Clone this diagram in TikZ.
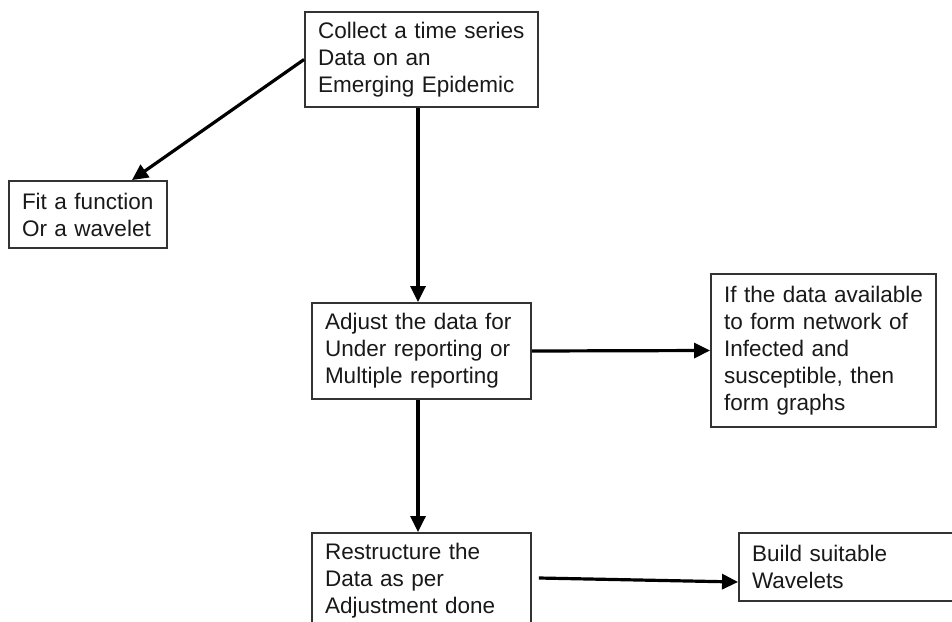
\documentclass[tikz,border=0pt]{standalone}
\usepackage{fontspec}
\setmainfont{Liberation Sans}
\usetikzlibrary{arrows.meta}
\begin{document}
\begin{tikzpicture}[x=1pt,y=-1pt,
  box/.style={draw=black!80, line width=1.9pt, rectangle, inner xsep=13pt, inner ysep=0pt,
    align=left, font=\fontsize{22.5}{27}\selectfont, text=black!90},
  flow/.style={line width=3.2pt, -{Triangle[length=16pt,width=15pt]}}
]
\useasboundingbox (0,0) rectangle (952,621);
\clip (0,0) rectangle (952,621);
\fill[white] (0,0) rectangle (952,621);

% process steps
\node[box, text width=207pt, minimum height=95pt] (collect) at (421.5,59.5)
  {Collect a time series\\Data on an\\Emerging Epidemic};
\node[box, text width=132pt, minimum height=67pt] (fit) at (88,214.5)
  {Fit a function\\Or a wavelet};
\node[box, text width=193pt, minimum height=96pt] (adjust) at (421.5,351)
  {Adjust the data for\\Under reporting or\\Multiple reporting};
\node[box, text width=199pt, minimum height=153pt] (graphs) at (823.5,350.5)
  {If the data available\\to form network of\\Infected and\\susceptible, then\\form graphs};
\node[box, text width=193pt, minimum height=96pt] (restructure) at (421.5,581)
  {Restructure the\\Data as per\\Adjustment done};
\node[box, text width=205pt, minimum height=68pt] (build) at (854.5,567)
  {Build suitable\\Wavelets};

% connectors
\draw[flow] ([xshift=-3.5pt]collect.south) -- ([xshift=-3.5pt]adjust.north);
\draw[flow] (collect.west) -- ([xshift=-36pt]fit.north east);
\draw[flow] (adjust.east) -- (graphs.west);
\draw[flow] ([xshift=-3.5pt]adjust.south) -- ([xshift=-3.5pt]restructure.north);
\draw[flow] ([shift={(7,-3)}]restructure.east) -- ([shift={(0,15)}]build.west);
\end{tikzpicture}
\end{document}
